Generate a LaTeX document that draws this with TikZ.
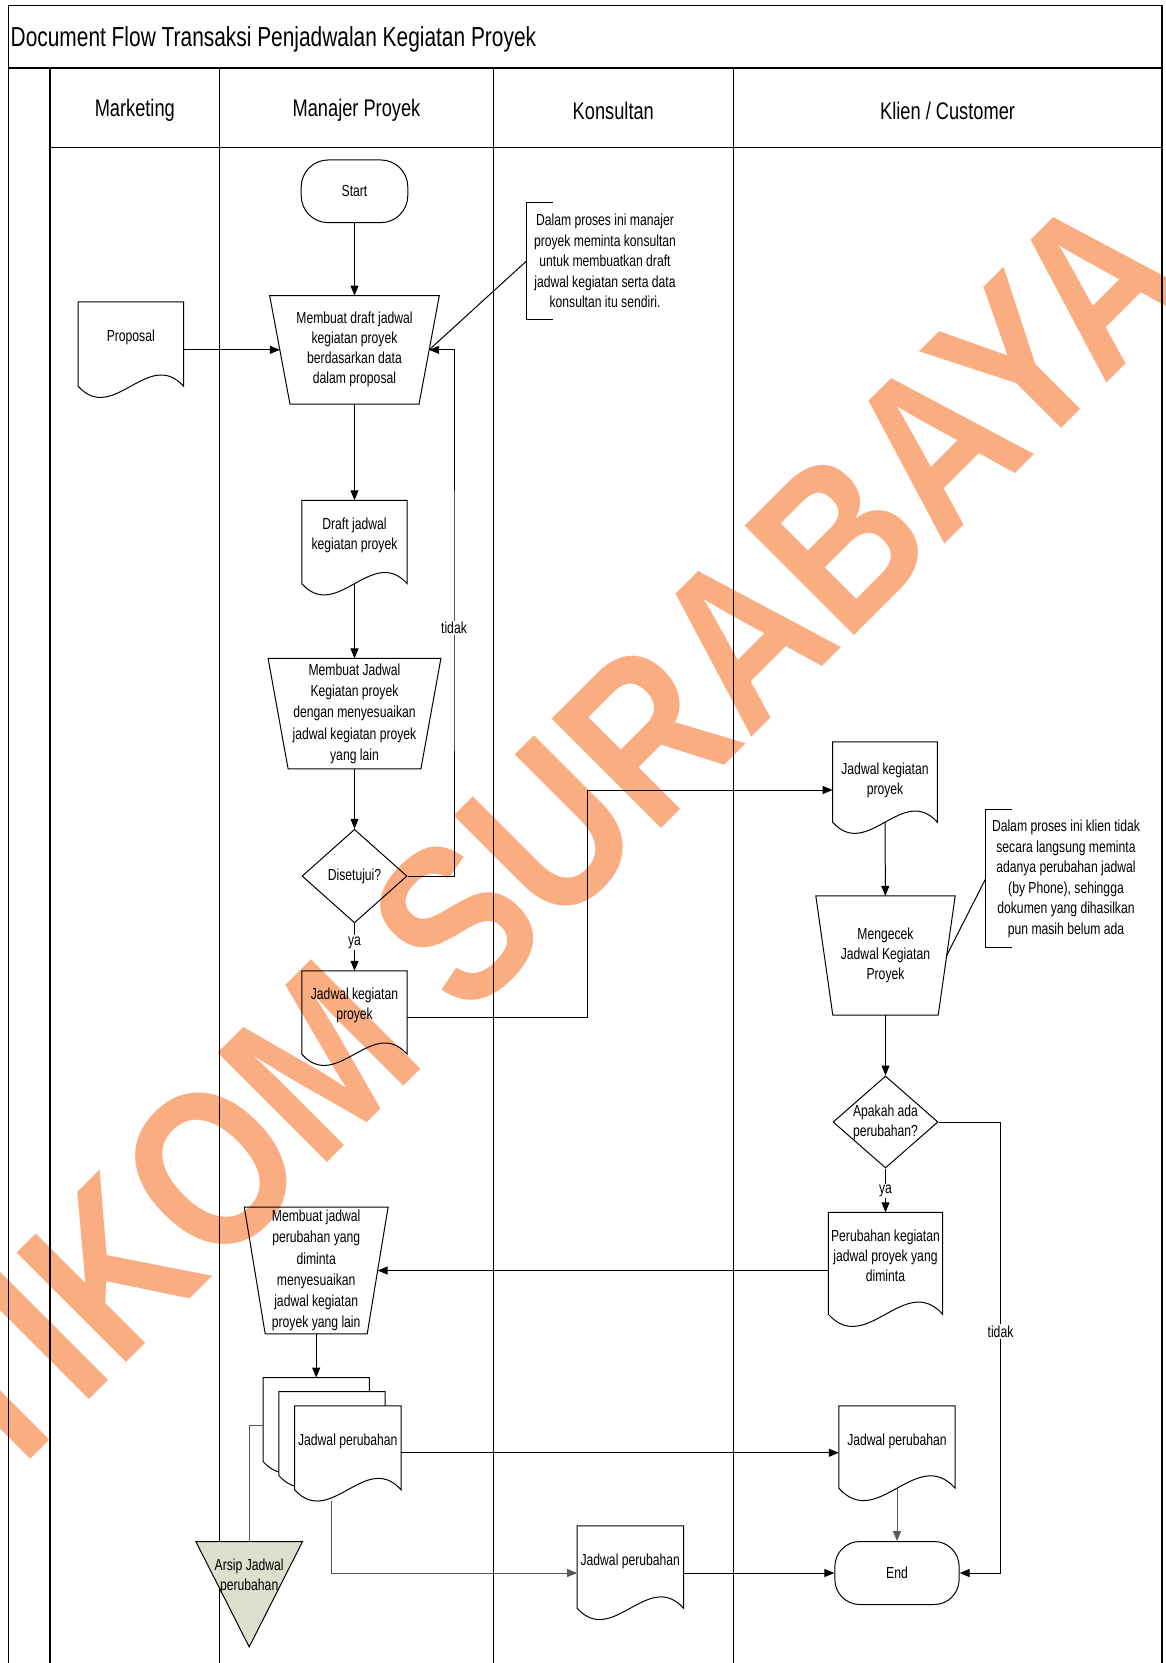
\documentclass[tikz,border=0pt]{standalone}
\usepackage{fontspec}
\setmainfont{Liberation Sans}
\newfontfamily\nfont{Liberation Sans}[FakeStretch=0.76]
\newfontfamily\wfont{Liberation Sans}[FakeStretch=0.84]
\usetikzlibrary{shapes.geometric,arrows.meta,calc}
\definecolor{wm}{RGB}{251,173,130}
\definecolor{arsipfill}{RGB}{221,224,205}
\newcommand{\FBody}{\nfont\fontsize{16}{20}\selectfont}
\newcommand{\FBodyB}{\nfont\fontsize{16}{21.3}\selectfont}
\newcommand{\FNote}{\nfont\fontsize{16}{20.6}\selectfont}
\newcommand{\FHead}{\nfont\fontsize{24}{28}\selectfont}
\newcommand{\FTitle}{\nfont\fontsize{27.5}{32}\selectfont}
\newcommand{\FWm}{\wfont\bfseries\fontsize{225}{230}\selectfont}
% document: name, x, y, W, H, text, text raise, fill
\newcommand{\DocShape}[8]{%
  \node[docbox, minimum width=#4pt, minimum height=#5pt] (#1) at (#2,#3) {};
  \draw[shapeline, fill=#8] (#1.south west) -- (#1.north west) -- (#1.north east) -- (#1.south east)
     .. controls +({-#4pt/3},{0.37*#4pt}) and +({#4pt/3},{-0.37*#4pt}) .. (#1.south west) -- cycle;
  \node[doctext] (#1-t) at ([yshift=#7pt]#1.center) {#6};
}
% manual operation: name, x, y, top width, inset, H, text, font
\newcommand{\TrapShape}[8]{%
  \node[docbox, minimum width=#4pt, minimum height=#6pt] (#1) at (#2,#3) {};
  \draw[shapeline] (#1.north west) -- (#1.north east) -- ([xshift=-#5pt]#1.south east)
     -- ([xshift=#5pt]#1.south west) -- cycle;
  \node[doctext, font=#8] (#1-t) at (#1.center) {#7};
}
\begin{document}
\begin{tikzpicture}[x=1pt, y=-1pt,
  shapeline/.style={line width=1pt, draw=black},
  frame/.style={line width=1.3pt, draw=black},
  arrow/.style={shapeline, -{Triangle[length=10pt,width=8pt]}},
  grayline/.style={line width=1pt, draw=black!65},
  docbox/.style={rectangle, draw=none, inner sep=0pt},
  doctext/.style={font=\FBody, align=center, inner sep=0pt},
  term/.style={rectangle, shapeline, font=\FBody, inner sep=0pt},
  dia/.style={diamond, shapeline, font=\FBody, inner sep=0pt, align=center},
  lbl/.style={font=\FBody, fill=white, inner sep=1.5pt},
  note/.style={rectangle, draw=none, font=\FNote, align=center, inner sep=0pt},
  head/.style={font=\FHead, inner sep=0pt}]
\useasboundingbox (0,0) rectangle (1166,1663);

% watermark
\node[rotate=45, text=wm, font=\FWm, inner sep=0pt] (wmark) at (500,880) {STIKOM SURABAYA};

% frame and lanes
\draw[frame] (8.5,1663) -- (8.5,5.3) -- (1162,5.3) -- (1162,1663);
\draw[line width=2.5pt] (8.5,68) -- (1162,68);
\draw[frame] (50,68) -- (50,1663);
\draw[frame] (50,147.5) -- (1162,147.5);
\foreach \xx in {219.6,493.4,733.2} \draw[frame] (\xx,68) -- (\xx,1663);

\node[anchor=west, font=\FTitle, inner sep=0pt] (title) at (10.5,39) {Document Flow Transaksi Penjadwalan Kegiatan Proyek};
\node[head] (hMkt) at (134.8,110.5) {Marketing};
\node[head] (hMgr) at (356.5,110.5) {Manajer Proyek};
\node[head] (hKons) at (613.3,110.5) {Konsultan};
\node[head] (hKlien) at (947.6,110.5) {Klien / Customer};

% Manajer Proyek column
\node[term, rounded corners=27pt, minimum width=106.6pt, minimum height=62.7pt] (start) at (354.5,191.3) {Start};
\TrapShape{trap1}{354.5}{349.85}{169.3}{20.35}{108.3}{Membuat draft jadwal\\kegiatan proyek\\berdasarkan data\\dalam proposal}{\FBody}
\DocShape{proposal}{130.8}{344}{105}{84}{Proposal}{6.7}{none}
\DocShape{draft}{354.5}{542}{105}{83}{Draft jadwal\\kegiatan proyek}{6.3}{none}
\TrapShape{trap2}{354.5}{713.6}{172.4}{20}{110}{Membuat Jadwal\\Kegiatan proyek\\dengan menyesuaikan\\jadwal kegiatan proyek\\yang lain}{\FBodyB}
\node[dia, minimum width=105pt, minimum height=93.6pt] (dis) at (354.5,876.1) {Disetujui?};
\DocShape{mjdoc}{354.5}{1012.5}{105}{83}{Jadwal kegiatan\\proyek}{6.7}{none}
\TrapShape{trap3}{316.2}{1270.5}{143.4}{20.9}{126.4}{Membuat jadwal\\perubahan yang\\diminta\\menyesuaikan\\jadwal kegiatan\\proyek yang lain}{\FBodyB}
\DocShape{stackA}{316.2}{1419.5}{106}{83.5}{}{0}{white}
\DocShape{stackB}{332}{1433.6}{106}{83.5}{}{0}{white}
\DocShape{stackC}{347.8}{1447.75}{106}{83.5}{Jadwal perubahan}{6}{white}
\node[docbox, minimum width=106.3pt, minimum height=105pt] (arsip) at (249.2,1594.2) {};
\draw[shapeline, fill=arsipfill] (arsip.north west) -- (arsip.north east) -- (arsip.south) -- cycle;
\node[doctext] (arsip-t) at (249.2,1576) {Arsip Jadwal\\perubahan};

% Konsultan column
\node[note, minimum width=156.6pt, minimum height=116.7pt] (note1) at (605,261)
  {Dalam proses ini manajer\\proyek meminta konsultan\\untuk membuatkan draft\\jadwal kegiatan serta data\\konsultan itu sendiri.};
\draw[shapeline] ([xshift=26pt]note1.north west) -- (note1.north west) -- (note1.south west) -- ([xshift=26pt]note1.south west);
\DocShape{kdoc}{630.3}{1567}{106}{82}{Jadwal perubahan}{6}{none}

% Klien column
\DocShape{kjdoc}{885}{782}{104.4}{80}{Jadwal kegiatan\\proyek}{2}{none}
\TrapShape{meng}{885.5}{955.5}{139}{17}{119}{Mengecek\\Jadwal Kegiatan\\Proyek}{\FBody}
\node[note, minimum width=160.6pt, minimum height=137.7pt] (note2) at (1066,878.9)
  {Dalam proses ini klien tidak\\secara langsung meminta\\adanya perubahan jadwal\\(by Phone), sehingga\\dokumen yang dihasilkan\\pun masih belum ada};
\draw[shapeline] ([xshift=26.6pt]note2.north west) -- (note2.north west) -- (note2.south west) -- ([xshift=26.6pt]note2.south west);
\node[dia, minimum width=105pt, minimum height=92pt] (apa) at (885.5,1122) {};
\node[doctext] (apa-t) at (885.5,1122) {Apakah ada\\perubahan?};
\DocShape{pdoc}{885.5}{1263.3}{114}{101.5}{Perubahan kegiatan\\jadwal proyek yang\\diminta}{7.3}{none}
\DocShape{kjp}{897}{1447}{116}{82}{Jadwal perubahan}{5.5}{none}
\node[term, rounded corners=25pt, minimum width=124.3pt, minimum height=63pt] (end) at (897,1573) {End};

% helper coordinates
\coordinate (loop1) at (454,628);
\coordinate (loop2) at (1000.5,1331.6);
\coordinate (bend1) at (587.3,900);
\coordinate (stackout) at (331,1500.5);

% connectors
\draw[arrow] (start) -- (trap1);
\draw[arrow] (proposal.east |- trap1.center) -- ([xshift=10.2pt]trap1.west);
\draw[shapeline] (note1.west) -- ([xshift=-10.2pt]trap1.east);
\draw[arrow] (trap1) -- (draft);
\draw[arrow] (draft) -- (trap2);
\draw[arrow] (trap2) -- (dis);
\draw[arrow] (dis) -| (loop1) |- ([xshift=-10.2pt]trap1.east);
\draw[arrow] (dis) -- (mjdoc);
\draw[arrow] ([yshift=-5pt]mjdoc.east) -| (bend1) |- ([yshift=-8pt]kjdoc.west);
\draw[arrow] (kjdoc) -- (meng);
\draw[shapeline] (note2.west) -- ([xshift=-8.5pt]meng.east);
\draw[arrow] (meng) -- (apa);
\draw[arrow] (apa) -- (pdoc);
\draw[arrow] (apa) -| (loop2) |- (end);
\draw[arrow] (pdoc.west |- trap3.center) -- ([xshift=-10.45pt]trap3.east);
\draw[arrow] (trap3) -- (stackA);
\draw[arrow] ([yshift=-5pt]stackC.east) -- ([yshift=-5pt]stackC.east -| kjp.west);
\draw[grayline] ([yshift=-5.5pt]stackA.west) -| (arsip.north);
\draw[grayline, -{Triangle[length=10pt,width=8pt]}] (stackout) |- ([yshift=-6pt]kdoc.west);
\draw[arrow] (kdoc.east |- end.west) -- (end.west);
\draw[grayline, -{Triangle[length=10pt,width=8pt]}] (kjp) -- (end);

% labels
\node[lbl] (tidak1) at (loop1) {tidak};
\node[lbl] (tidak2) at (loop2) {tidak};
\node[lbl] (ya1) at (354.5,942.5) {ya};
\node[lbl] (ya2) at (885.5,1191) {ya};
\end{tikzpicture}
\end{document}
